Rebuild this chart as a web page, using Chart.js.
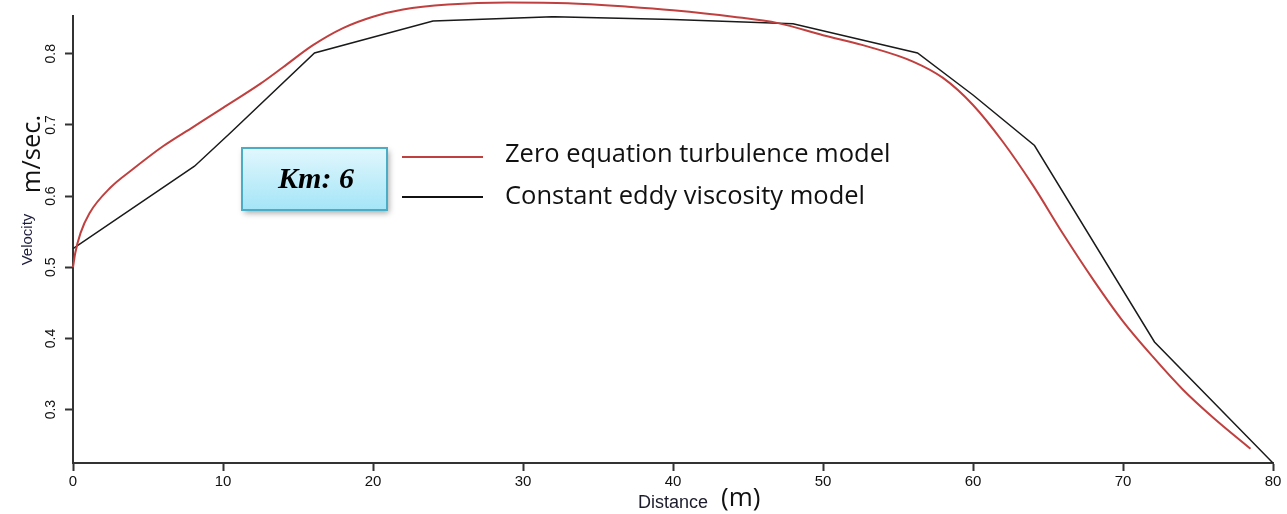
<!DOCTYPE html>
<html>
<head>
<meta charset="utf-8">
<script src="https://cdn.jsdelivr.net/npm/chart.js@4.4.1/dist/chart.umd.min.js"></script>
<style>
  html, body { margin: 0; padding: 0; background: #fff; }
  canvas { display: block; }
</style>
</head>
<body>
<canvas id="velocityChart" width="1287" height="514"></canvas>
<script>
// Zero equation turbulence model (red, smooth)
const zeroDist = [0, 0.15, 0.5, 1.1, 2.5, 4, 6, 8, 10, 12.5, 14, 16, 18, 20, 22, 25, 29, 33, 37, 40, 44, 47, 50, 53, 56, 58, 60, 62, 64, 66, 68, 70, 72, 74, 76, 78.5];
const zeroVel = [0.5, 0.52, 0.548, 0.576, 0.612, 0.638, 0.67, 0.697, 0.724, 0.758, 0.781, 0.812, 0.836, 0.852, 0.862, 0.869, 0.872, 0.871, 0.866, 0.861, 0.852, 0.843, 0.826, 0.81, 0.789, 0.766, 0.728, 0.676, 0.615, 0.547, 0.483, 0.424, 0.374, 0.328, 0.289, 0.245];

// Constant eddy viscosity model (black, piecewise)
const constDist = [0, 8.1, 10.5, 16.1, 24, 32, 40, 48, 56.3, 60, 64.1, 72.1, 80];
const constVel = [0.526, 0.642, 0.689, 0.801, 0.846, 0.852, 0.848, 0.842, 0.801, 0.742, 0.671, 0.395, 0.225];

const xTicks = [0, 10, 20, 30, 40, 50, 60, 70, 80];
const yTicks = [0.3, 0.4, 0.5, 0.6, 0.7, 0.8];

const seriesNames = ['Zero equation turbulence model', 'Constant eddy viscosity model'];
const kmLabel = 'Km: 6';

function toPoints(xs, ys) {
    return xs.map((x, i) => ({ x: x, y: ys[i] }));
}

// caja "Km", leyenda y unidades
const extras = {
    id: 'extras',
    afterDraw(chart) {
        const ctx = chart.ctx;
        ctx.save();

        ctx.shadowColor = 'rgba(0, 0, 0, 0.35)';
        ctx.shadowBlur = 6;
        ctx.shadowOffsetX = 2;
        ctx.shadowOffsetY = 3;
        const grad = ctx.createLinearGradient(0, 148, 0, 210);
        grad.addColorStop(0, '#e2f7fd');
        grad.addColorStop(1, '#a4e5f7');
        ctx.fillStyle = grad;
        ctx.fillRect(242, 148, 145, 62);
        ctx.shadowColor = 'transparent';
        ctx.strokeStyle = '#4bacc6';
        ctx.lineWidth = 2;
        ctx.strokeRect(242, 148, 145, 62);

        ctx.fillStyle = '#000';
        ctx.font = 'italic bold 30px "Liberation Serif"';
        ctx.textAlign = 'center';
        ctx.textBaseline = 'middle';
        ctx.fillText(kmLabel, 316, 180);

        ctx.lineWidth = 2;
        ctx.strokeStyle = '#c0403f';
        ctx.beginPath();
        ctx.moveTo(402, 157);
        ctx.lineTo(483, 157);
        ctx.stroke();
        ctx.strokeStyle = '#111';
        ctx.beginPath();
        ctx.moveTo(402, 197);
        ctx.lineTo(483, 197);
        ctx.stroke();

        ctx.fillStyle = '#111';
        ctx.font = '25.5px "Open Sans"';
        ctx.textAlign = 'left';
        ctx.fillText(seriesNames[0], 505, 155);
        ctx.fillText(seriesNames[1], 505, 197);

        ctx.font = '26px "Open Sans"';
        ctx.fillText('(m)', 721, 499);

        ctx.translate(33, 154);
        ctx.rotate(-Math.PI / 2);
        ctx.textAlign = 'center';
        ctx.font = '25.5px "Open Sans"';
        ctx.fillText('m/sec.', 0, 0);

        ctx.restore();
    }
};

const ctx = document.getElementById('velocityChart').getContext('2d');

new Chart(ctx, {
    type: 'line',
    data: {
        datasets: [{
            label: seriesNames[0],
            data: toPoints(zeroDist, zeroVel),
            borderColor: '#c0403f',
            borderWidth: 2,
            pointRadius: 0,
            tension: 0.4,
            cubicInterpolationMode: 'monotone',
            clip: false
        }, {
            label: seriesNames[1],
            data: toPoints(constDist, constVel),
            borderColor: '#1a1a1a',
            borderWidth: 1.5,
            pointRadius: 0,
            tension: 0
        }]
    },
    options: {
        responsive: false,
        animation: false,
        devicePixelRatio: 1,
        layout: { padding: { top: 16, right: 14, left: 0, bottom: 0 } },
        plugins: {
            legend: { display: false },
            tooltip: { enabled: false }
        },
        scales: {
            x: {
                type: 'linear',
                min: 0,
                max: 80,
                afterBuildTicks: s => { s.ticks = xTicks.map(v => ({ value: v })); },
                afterFit: s => { s.height = 51; },
                ticks: {
                    color: '#111',
                    padding: 2,
                    font: { family: 'Liberation Sans', size: 15 },
                    maxRotation: 0
                },
                grid: { drawOnChartArea: false, drawTicks: true, tickLength: 8, tickColor: '#333', tickWidth: 2 },
                border: { display: true, color: '#333', width: 2 },
                title: {
                    display: true,
                    text: 'Distance',
                    color: '#1c1c2c',
                    font: { family: 'Liberation Sans', size: 18 },
                    padding: { top: 0, bottom: 0 }
                }
            },
            y: {
                type: 'linear',
                min: 0.225,
                max: 0.853,
                afterBuildTicks: s => { s.ticks = yTicks.map(v => ({ value: v })); },
                afterFit: s => { s.width = 73; },
                ticks: {
                    color: '#111',
                    padding: 4,
                    minRotation: 90,
                    maxRotation: 90,
                    crossAlign: 'center',
                    font: { family: 'Liberation Sans', size: 14 },
                    callback: v => String(v)
                },
                grid: { drawOnChartArea: false, drawTicks: true, tickLength: 8, tickColor: '#333', tickWidth: 2 },
                border: { display: true, color: '#333', width: 2 },
                title: {
                    display: true,
                    text: 'Velocity',
                    color: '#1c1c3c',
                    font: { family: 'Liberation Sans', size: 15 },
                    padding: { top: 19, bottom: 0 }
                }
            }
        }
    },
    plugins: [extras]
});
</script>
</body>
</html>
